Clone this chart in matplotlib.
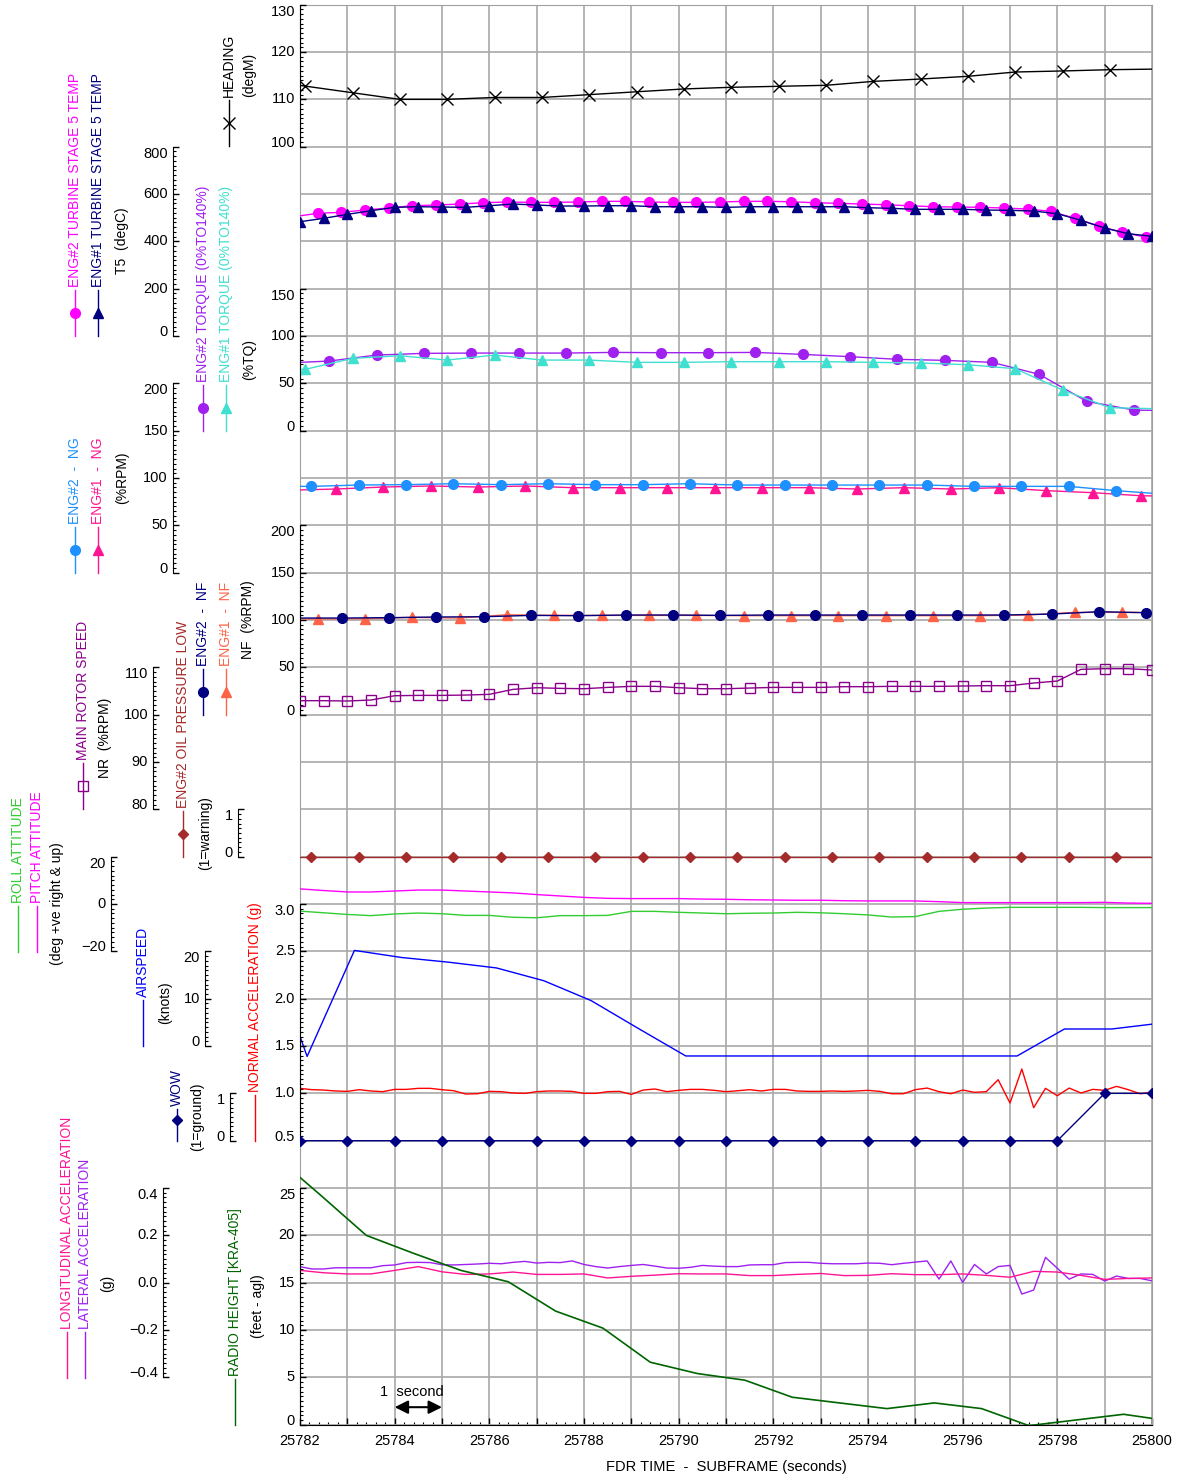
import matplotlib
matplotlib.use("Agg")
import matplotlib.pyplot as plt
import matplotlib.transforms as mtransforms
from matplotlib.lines import Line2D
import numpy as np

plt.rcParams["font.family"] = ["Liberation Sans", "DejaVu Sans"]

# ---- FDR data (time stamps in seconds) ----
heading_t = 25781.11 + np.arange(20)
heading = [114.2, 112.8, 111.4, 110.0, 110.0, 110.4, 110.4, 111.0, 111.6, 112.2,
           112.55, 112.76, 112.97, 113.8, 114.3, 114.87, 115.78, 116.0, 116.27, 116.4]

t5_eng2_t = 25781.87 + 0.5 * np.arange(38)
t5_eng2 = [504, 518.5, 522.7, 532.4, 540.9, 550.6, 553.5, 557.8, 563.3, 566.2,
           564.9, 564.9, 566.2, 569.2, 569.2, 566.2, 564.9, 564.9, 566.2, 569.2,
           569.2, 567.5, 563.3, 560.7, 557.8, 554.8, 550.6, 546.4, 545.1, 543.8,
           540.9, 536.6, 526.9, 497.3, 464.8, 438.2, 418.3, 410]
t5_eng1_t = 25782 + 0.5 * np.arange(37)
t5_eng1 = [483, 497.3, 514.2, 529.5, 543.8, 546.4, 545.1, 543.8, 550.6, 557.8,
           553.5, 549.3, 549.3, 550.6, 550.6, 546.4, 546.4, 546.4, 543.8, 546.4,
           546.4, 546.4, 546.4, 546.4, 542.1, 539.6, 535.4, 535.4, 535.4, 532.4,
           531.1, 528.2, 516.8, 488.9, 456.4, 432.3, 421.3]

tq_eng2_t = 25781.62 + np.arange(20)
tq_eng2 = [71.3, 73.6, 79.9, 81.7, 82.0, 82.0, 82.0, 82.7, 82.4, 82.4,
           82.7, 80.6, 78.2, 75.4, 74.3, 72.2, 59.5, 31.0, 21.8, 21.0]
tq_eng1_t = 25781.11 + np.arange(20)
tq_eng1 = [63.0, 64.8, 76.4, 79.2, 74.6, 79.9, 74.6, 74.6, 72.2, 72.2,
           72.9, 72.9, 72.9, 72.2, 71.5, 69.7, 65.5, 43.0, 24.3, 23.2]

ng_eng2_t = 25781.24 + np.arange(20)
ng_eng2 = [91.2, 91.2, 92.6, 93.0, 94.0, 93.0, 94.0, 93.0, 93.0, 94.0,
           92.6, 92.6, 92.6, 92.6, 92.6, 91.2, 91.2, 91.2, 86.7, 83.0]
ng_eng1_t = 25781.76 + np.arange(20)
ng_eng1 = [87.1, 88.4, 90.5, 91.6, 90.5, 91.6, 89.8, 89.8, 89.8, 89.8,
           89.8, 89.8, 88.4, 89.8, 88.4, 89.8, 86.7, 84.5, 81.3, 80.5]

nf_eng2_t = 25781.88 + np.arange(20)
nf_eng2 = [102.1, 102.1, 102.5, 103.2, 103.5, 104.9, 104.6, 105.3, 105.3, 104.9,
           105.3, 105.3, 105.3, 105.3, 105.3, 105.3, 106.3, 108.8, 107.7, 107.7]
nf_eng1_t = 25781.37 + np.arange(20)
nf_eng1 = [101.4, 101.1, 101.4, 102.8, 102.1, 105.6, 104.9, 104.9, 104.9, 104.9,
           104.6, 104.6, 104.6, 104.6, 104.6, 104.6, 105.3, 108.1, 108.1, 108.0]

nr_t = 25782 + 0.5 * np.arange(37)
nr = [102.96, 102.96, 102.89, 103.10, 104.01, 104.08, 104.08, 104.15, 104.30, 105.35,
      105.70, 105.56, 105.49, 105.77, 105.99, 105.99, 105.70, 105.49, 105.49, 105.63,
      105.77, 105.77, 105.77, 105.92, 105.92, 105.99, 105.99, 105.99, 106.06, 106.13,
      106.13, 106.69, 107.11, 109.58, 109.72, 109.72, 109.44]

oil_t = 25781.24 + np.arange(20)
oil_low = [0, 0, 0, 0, 0, 0, 0, 0, 0, 0, 0, 0, 0, 0, 0, 0, 0, 0, 0, 0]

att_t = 25782 + 0.5 * np.arange(37)
pitch = [6.4, 5.7, 5.1, 5.1, 5.5, 5.9, 5.9, 5.5, 5.1, 4.7,
         4.0, 3.4, 2.8, 2.4, 2.3, 2.3, 2.3, 2.1, 2.0, 1.8,
         1.7, 1.6, 1.6, 1.4, 1.3, 1.3, 1.3, 1.0, 0.6, 0.6,
         0.6, 0.6, 0.6, 0.6, 0.7, 0.4, 0.3]
roll = [-3.0, -3.7, -4.4, -4.9, -4.2, -3.8, -4.1, -4.8, -4.8, -5.6,
        -5.8, -4.9, -4.9, -4.8, -3.1, -3.1, -3.5, -3.8, -4.1, -3.9,
        -3.8, -3.5, -3.7, -4.1, -4.6, -5.5, -5.3, -3.1, -2.2, -1.7,
        -1.4, -1.4, -1.4, -1.4, -1.5, -1.5, -1.5]

ias_t = 25781.15 + np.arange(20)
airspeed = [26.0, -2.2, 20.2, 18.7, 17.7, 16.5, 13.8, 9.6, 3.7, -2.1,
            -2.1, -2.1, -2.1, -2.1, -2.1, -2.1, -2.1, 3.6, 3.6, 4.8]

nz_t = 25782 + 0.25 * np.arange(73)
nz = [1.053, 1.039, 1.035, 1.025, 1.021, 1.039, 1.025, 1.018, 1.042, 1.042,
      1.053, 1.053, 1.039, 1.028, 0.993, 0.996, 1.021, 1.018, 1.004, 1.0,
      1.018, 1.025, 1.025, 1.021, 1.0, 1.0, 1.018, 1.021, 0.989, 1.035,
      1.046, 1.018, 1.032, 1.042, 1.042, 1.032, 1.018, 1.028, 1.039, 1.025,
      1.042, 1.042, 1.025, 1.021, 1.021, 1.025, 1.021, 1.025, 1.032, 1.021,
      0.996, 0.996, 1.039, 1.056, 1.018, 0.996, 1.035, 1.011, 1.018, 1.144,
      0.898, 1.257, 0.849, 1.053, 0.975, 1.056, 1.004, 1.042, 1.032, 1.074,
      1.039, 0.996, 1.011]

wow_t = 25782 + np.arange(19)
wow = [0, 0, 0, 0, 0, 0, 0, 0, 0, 0, 0, 0, 0, 0, 0, 0, 0, 1, 1]

lat_t = 25782 + 0.25 * np.arange(73)
lat_acc = [0.068, 0.058, 0.058, 0.063, 0.063, 0.063, 0.063, 0.072, 0.075, 0.085,
           0.086, 0.085, 0.076, 0.075, 0.077, 0.079, 0.082, 0.080, 0.086, 0.090,
           0.083, 0.086, 0.085, 0.092, 0.077, 0.068, 0.062, 0.068, 0.073, 0.077,
           0.070, 0.062, 0.061, 0.065, 0.073, 0.070, 0.068, 0.068, 0.075, 0.076,
           0.076, 0.085, 0.086, 0.086, 0.082, 0.080, 0.080, 0.080, 0.083, 0.082,
           0.076, 0.082, 0.087, 0.092, 0.015, 0.092, 0.001, 0.077, 0.037, 0.068,
           0.073, -0.048, -0.031, 0.107, 0.061, 0.015, 0.037, 0.035, 0.007, 0.028,
           0.018, 0.018, 0.008]
lon_t = 25782 + 0.5 * np.arange(37)
lon_acc = [0.052, 0.042, 0.037, 0.037, 0.052, 0.068, 0.046, 0.035, 0.037, 0.045,
           0.035, 0.035, 0.037, 0.020, 0.027, 0.032, 0.038, 0.037, 0.037, 0.030,
           0.030, 0.035, 0.039, 0.030, 0.031, 0.038, 0.034, 0.034, 0.037, 0.031,
           0.023, 0.048, 0.045, 0.031, 0.014, 0.018, 0.020]

ralt_t = 25781.4 + np.arange(20)
radio_alt = [28.7, 24.4, 20.0, 18.1, 16.3, 15.1, 12.0, 10.2, 6.6, 5.4,
             4.7, 2.9, 2.3, 1.7, 2.3, 1.7, -0.1, 0.5, 1.1, 0.38]

# ---- layout ----
W, H = 1183, 1478
X0, X1 = 25782, 25800
PX_L, PX_R = 300, 1152
PX_T, PX_B = 4.7, 1424.7
NROWS = 30

fig = plt.figure(figsize=(W / 100, H / 100), dpi=100)
rect = [PX_L / W, 1 - PX_B / H, (PX_R - PX_L) / W, (PX_B - PX_T) / H]

ax = fig.add_axes(rect)
ax.set_xlim(X0, X1)
ax.set_ylim(NROWS, 0)
ax.set_yticks(np.arange(NROWS + 1))
ax.tick_params(axis="y", left=False, labelleft=False)
secs = list(range(X0, X1 + 1))
ax.set_xticks(secs)
ax.set_xticklabels([str(s) if (s - X0) % 2 == 0 else "" for s in secs])
ax.set_xticks(np.arange(X0, X1 + 0.01, 0.2), minor=True)
ax.tick_params(axis="x", direction="in", length=5, width=1, labelsize=10.5, pad=6.5)
ax.tick_params(axis="x", which="minor", direction="in", length=2.5, width=0.8)
ax.grid(True, color="#a8a8a8", lw=1.2)
ax.set_axisbelow(True)
for s in ("top", "right", "left"):
    ax.spines[s].set_color("#a0a0a0")
ax.set_xlabel("FDR TIME  -  SUBFRAME (seconds)", fontsize=10.5, labelpad=9)


def inside(t):
    # only mark samples that fall inside the time window
    return [i for i, v in enumerate(t) if X0 - 0.05 <= v <= X1 + 0.05]


def param_axis(row_top, row_bot, v_top, v_bot, spine_px, ticks, fmt="{:g}", nminor=10):
    a = fig.add_axes(rect)
    per_row = (v_top - v_bot) / (row_bot - row_top)
    a.set_ylim(v_bot - (NROWS - row_bot) * per_row, v_top + row_top * per_row)
    a.set_xlim(X0, X1)
    a.patch.set_visible(False)
    for s in ("top", "right", "bottom"):
        a.spines[s].set_visible(False)
    a.spines["left"].set_position(("axes", (spine_px - PX_L) / (PX_R - PX_L)))
    a.spines["left"].set_bounds(v_bot, v_top)
    a.set_xticks([])
    a.set_yticks(ticks)
    a.set_yticks(np.linspace(v_bot, v_top, (len(ticks) - 1) * nminor + 1), minor=True)
    a.tick_params(axis="y", which="major", direction="in", length=4.5, width=1, labelleft=False)
    a.tick_params(axis="y", which="minor", direction="in", length=2.2, width=0.8)
    tr = mtransforms.blended_transform_factory(fig.transFigure, a.transData)
    for v in ticks:
        va = "center"
        if v == v_top:
            va = "top"
        elif v == v_bot:
            va = "baseline"
        a.text((spine_px - 5) / W, v, fmt.format(v).replace("-", "\u2212"),
               transform=tr, ha="right", va=va, fontsize=10.5)
    return a


def legend_item(x, y_bot, text, color, marker=None, seg=46, ms=7, mfc=None, mark_at=None):
    fx = x / W
    y_top = y_bot - seg
    fig.add_artist(Line2D([fx, fx], [1 - y_bot / H, 1 - y_top / H],
                          transform=fig.transFigure, color=color, lw=1))
    if marker:
        ym = (y_bot + y_top) / 2 if mark_at is None else mark_at
        fig.add_artist(Line2D([fx], [1 - ym / H], transform=fig.transFigure, ls="none",
                              marker=marker, ms=ms, color=color,
                              mfc=color if mfc is None else mfc, mew=1))
    fig.text(fx, 1 - (y_top - 3) / H, text, rotation=90, ha="center", va="bottom",
             color=color, fontsize=10)


def unit_text(x, y, text):
    fig.text(x / W, 1 - y / H, text, rotation=90, ha="center", va="center", fontsize=10)


# heading
a = param_axis(0, 3, 130, 100, 300, [100, 110, 120, 130])
a.plot(heading_t, heading, color="black", lw=1, marker="x", ms=8, mew=1,
       markevery=inside(heading_t))
legend_item(229, 146, "HEADING", "black", marker="x", ms=8)
unit_text(249, 75, "(degM)")

# T5
a = param_axis(3, 7, 800, 0, 173, [0, 200, 400, 600, 800])
a.plot(t5_eng2_t, t5_eng2, color="#ff00ff", lw=1, marker="o", ms=7, markevery=inside(t5_eng2_t))
a.plot(t5_eng1_t, t5_eng1, color="#000080", lw=1, marker="^", ms=7, markevery=inside(t5_eng1_t))
legend_item(75, 336, "ENG#2 TURBINE STAGE 5 TEMP", "#ff00ff", marker="o")
legend_item(98, 336, "ENG#1 TURBINE STAGE 5 TEMP", "#000080", marker="^")
unit_text(122, 241, "T5  (degC)")

# torque
a = param_axis(6, 9, 150, 0, 300, [0, 50, 100, 150])
a.plot(tq_eng2_t, tq_eng2, color="#a020f0", lw=1, marker="o", ms=7, markevery=inside(tq_eng2_t))
a.plot(tq_eng1_t, tq_eng1, color="#40e0d0", lw=1, marker="^", ms=7, markevery=inside(tq_eng1_t))
legend_item(203, 431, "ENG#2 TORQUE (0%TO140%)", "#a020f0", marker="o")
legend_item(226, 431, "ENG#1 TORQUE (0%TO140%)", "#40e0d0", marker="^")
unit_text(249, 360, "(%TQ)")

# NG
a = param_axis(8, 12, 200, 0, 173, [0, 50, 100, 150, 200])
a.plot(ng_eng1_t, ng_eng1, color="#ff1493", lw=1, marker="^", ms=7, markevery=inside(ng_eng1_t))
a.plot(ng_eng2_t, ng_eng2, color="#1e90ff", lw=1, marker="o", ms=7, markevery=inside(ng_eng2_t))
legend_item(75, 573, "ENG#2  -  NG", "#1e90ff", marker="o")
legend_item(98, 573, "ENG#1  -  NG", "#ff1493", marker="^")
unit_text(122, 478, "(%RPM)")

# NF
a = param_axis(11, 15, 200, 0, 300, [0, 50, 100, 150, 200])
a.plot(nf_eng1_t, nf_eng1, color="#ff6347", lw=1, marker="^", ms=7, markevery=inside(nf_eng1_t))
a.plot(nf_eng2_t, nf_eng2, color="#000080", lw=1, marker="o", ms=7, markevery=inside(nf_eng2_t))
legend_item(203, 715, "ENG#2  -  NF", "#000080", marker="o")
legend_item(226, 715, "ENG#1  -  NF", "#ff6347", marker="^")
unit_text(248, 620, "NF  (%RPM)")

# NR
a = param_axis(14, 17, 110, 80, 153, [80, 90, 100, 110])
a.plot(nr_t, nr, color="#8b008b", lw=1, marker="s", ms=7, mfc="none")
legend_item(83, 809, "MAIN ROTOR SPEED", "#8b008b", marker="s", mfc="none")
unit_text(105, 738, "NR  (%RPM)")

# oil pressure low
a = param_axis(17, 18, 1, 0, 238, [0, 1])
a.plot(oil_t, oil_low, color="#a52a2a", lw=1, marker="D", ms=5, markevery=inside(oil_t))
legend_item(183, 857, "ENG#2 OIL PRESSURE LOW", "#a52a2a", marker="D", ms=5)
unit_text(205, 833, "(1=warning)")

# attitude
a = param_axis(18, 20, 20, -20, 111, [-20, 0, 20])
a.plot(att_t, roll, color="#32cd32", lw=1)
a.plot(att_t, pitch, color="#ff00ff", lw=1)
legend_item(18, 952, "ROLL ATTITUDE", "#32cd32")
legend_item(37, 952, "PITCH ATTITUDE", "#ff00ff")
unit_text(57, 904, "(deg +ve right & up)")

# airspeed
a = param_axis(20, 22, 20, 0, 205, [0, 10, 20])
a.plot(ias_t, airspeed, color="#0000ff", lw=1)
legend_item(143, 1046, "AIRSPEED", "#0000ff")
unit_text(165, 1003, "(knots)")

# normal acceleration
a = param_axis(19, 24, 3.0, 0.5, 300, [0.5, 1.0, 1.5, 2.0, 2.5, 3.0], fmt="{:.1f}")
a.plot(nz_t, nz, color="#ff0000", lw=1)
legend_item(255, 1141, "NORMAL ACCELERATION (g)", "#ff0000")

# WOW
a = param_axis(23, 24, 1, 0, 230, [0, 1])
a.plot(wow_t, wow, color="#000080", lw=1, marker="D", ms=5)
legend_item(177, 1141, "WOW", "#000080", marker="D", ms=5, seg=32, mark_at=1120)
unit_text(197, 1117, "(1=ground)")

# longitudinal / lateral acceleration
a = param_axis(25, 29, 0.4, -0.4, 163, [-0.4, -0.2, 0.0, 0.2, 0.4], fmt="{:.1f}")
a.plot(lat_t, lat_acc, color="#a020f0", lw=1)
a.plot(lon_t, lon_acc, color="#ff1493", lw=1)
legend_item(67, 1378, "LONGITUDINAL ACCELERATION", "#ff1493")
legend_item(85, 1378, "LATERAL ACCELERATION", "#a020f0")
unit_text(107, 1283, "(g)")

# radio height
a = param_axis(25, 30, 25, 0, 300, [0, 5, 10, 15, 20, 25])
a.plot(ralt_t, radio_alt, color="#006400", lw=1.2)
legend_item(235, 1425, "RADIO HEIGHT [KRA-405]", "#006400")
unit_text(258, 1306, "(feet - agl)")

# 1 second scale marker
ax.annotate("", xy=(25784, 29.63), xytext=(25785, 29.63),
            arrowprops=dict(arrowstyle="<|-|>", color="black", lw=1.5,
                            mutation_scale=20, shrinkA=0, shrinkB=0))
ax.text(25783.7, 29.3, "1  second", ha="left", va="center", fontsize=10.5)

fig.savefig("out.png", dpi=100)
